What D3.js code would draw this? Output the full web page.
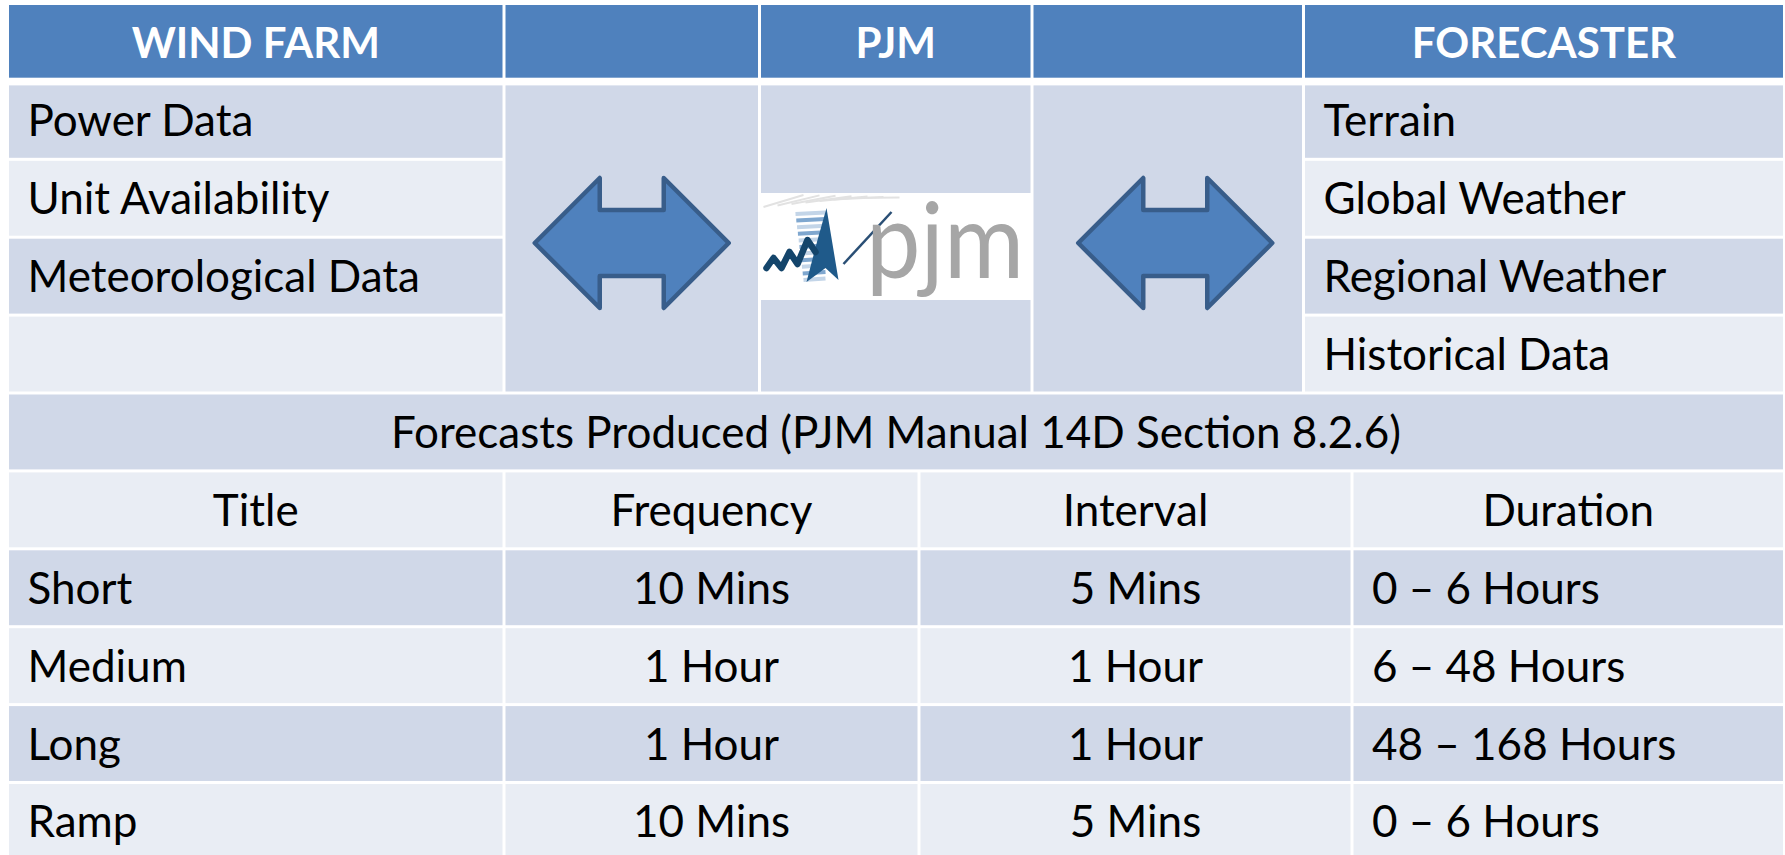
<!DOCTYPE html>
<html>
<head>
<meta charset="utf-8">
<script src="https://cdn.jsdelivr.net/npm/d3@7"></script>
<style>
  html, body { margin: 0; padding: 0; background: #fff; }
  svg { display: block; }
  text { font-family: Lato, "Open Sans", sans-serif; }
</style>
</head>
<body>
<div id="chart"></div>
<script>
// ── data ──────────────────────────────────────────────
const topHeaders       = ["WIND FARM", "", "PJM", "", "FORECASTER"];
const windFarmInputs   = ["Power Data", "Unit Availability", "Meteorological Data", ""];
const forecasterInputs = ["Terrain", "Global Weather", "Regional Weather", "Historical Data"];
const forecastsTitle   = "Forecasts Produced (PJM Manual 14D Section 8.2.6)";
const forecastColumns  = ["Title", "Frequency", "Interval", "Duration"];
const forecastTitles   = ["Short", "Medium", "Long", "Ramp"];
const forecastFreq     = ["10 Mins", "1 Hour", "1 Hour", "10 Mins"];
const forecastInterval = ["5 Mins", "1 Hour", "1 Hour", "5 Mins"];
const forecastDuration = ["0 \u2013 6 Hours", "6 \u2013 48 Hours", "48 \u2013 168 Hours", "0 \u2013 6 Hours"];

(function () {
  const W = 1785, H = 855;
  const HEADER = "#4F81BD", DARK = "#D0D8E8", LIGHT = "#E9EDF4";
  const ARROW_FILL = "#4F81BD", ARROW_STROKE = "#385D8A";
  const FS = 44, FS_HEAD = 42;
  const LINE = 1.5;   // half of the white cell border

  const svg = d3.select("#chart").append("svg")
    .attr("width", W).attr("height", H);

  // row index -> y ; column index -> x
  const nRows = 5 + 1 + 1 + forecastTitles.length;   // header + 4 inputs + title + col heads + rows
  const y = d3.scaleLinear().domain([0, nRows]).range([3.5, 3.5 + nRows * 77.9]);
  const xUp  = d3.scaleLinear().domain([0, 1, 2, 3, 4, 5]).range([7.5, 504, 759.5, 1032, 1303.5, 1784.5]);
  const xLow = d3.scaleLinear().domain([0, 1, 2, 3, 4]).range([7.5, 504, 919, 1352, 1784.5]);

  const band = r => (r % 2 === 1 ? DARK : LIGHT);

  // cell list
  const cells = [];
  function cell(x0, x1, r0, r1, fill, extraTop, extraBottom) {
    cells.push({
      x: x0 + LINE, w: x1 - x0 - 2 * LINE,
      y: y(r0) + LINE + (extraTop || 0),
      h: y(r1) - y(r0) - 2 * LINE - (extraTop || 0) - (extraBottom || 0),
      fill
    });
  }
  // header row (thick bottom border)
  topHeaders.forEach((_, i) => cell(xUp(i), xUp(i + 1), 0, 1, HEADER, 0, 2.2));
  // wind farm + forecaster columns
  windFarmInputs.forEach((_, i) => {
    cell(xUp(0), xUp(1), i + 1, i + 2, band(i + 1), i === 0 ? 2.5 : 0, 0);
    cell(xUp(4), xUp(5), i + 1, i + 2, band(i + 1), i === 0 ? 2.5 : 0, 0);
  });
  // merged middle cells
  [1, 2, 3].forEach(c => cell(xUp(c), xUp(c + 1), 1, 5, DARK, 2.5, 0));
  // forecasts produced title row
  cell(xUp(0), xUp(5), 5, 6, band(5));
  // lower table
  for (let r = 6; r < nRows; r++) {
    forecastColumns.forEach((_, c) => cell(xLow(c), xLow(c + 1), r, r + 1, band(r)));
  }

  svg.append("g").selectAll("rect").data(cells).join("rect")
    .attr("x", d => d.x).attr("y", d => d.y)
    .attr("width", d => d.w).attr("height", d => d.h)
    .attr("fill", d => d.fill);

  // ── texts ──
  const texts = [];
  const mid = r => (y(r) + y(r + 1)) / 2;
  const PAD = 20, DY = 16;

  topHeaders.forEach((t, i) => {
    if (t) texts.push({ t, x: (xUp(i) + xUp(i + 1)) / 2, y: mid(0) + 16, anchor: "middle", bold: true, fill: "#fff" });
  });
  windFarmInputs.forEach((t, i) => {
    if (t) texts.push({ t, x: xUp(0) + PAD, y: mid(i + 1) + DY, anchor: "start" });
  });
  forecasterInputs.forEach((t, i) => {
    texts.push({ t, x: xUp(4) + PAD, y: mid(i + 1) + DY, anchor: "start" });
  });
  texts.push({ t: forecastsTitle, x: (xUp(0) + xUp(5)) / 2, y: mid(5) + DY, anchor: "middle" });
  forecastColumns.forEach((t, c) => {
    texts.push({ t, x: (xLow(c) + xLow(c + 1)) / 2, y: mid(6) + DY, anchor: "middle" });
  });
  forecastTitles.forEach((t, i) => {
    const r = 7 + i;
    texts.push({ t, x: xLow(0) + PAD, y: mid(r) + DY, anchor: "start" });
    texts.push({ t: forecastFreq[i], x: (xLow(1) + xLow(2)) / 2, y: mid(r) + DY, anchor: "middle" });
    texts.push({ t: forecastInterval[i], x: (xLow(2) + xLow(3)) / 2, y: mid(r) + DY, anchor: "middle" });
    texts.push({ t: forecastDuration[i], x: xLow(3) + PAD, y: mid(r) + DY, anchor: "start" });
  });

  svg.append("g").selectAll("text").data(texts).join("text")
    .attr("x", d => d.x).attr("y", d => d.y)
    .attr("text-anchor", d => d.anchor)
    .attr("font-size", d => (d.bold ? FS_HEAD : FS))
    .attr("font-weight", d => (d.bold ? 700 : 400))
    .attr("fill", d => d.fill || "#000")
    .text(d => d.t);

  // ── double arrows ──
  const aw = 97, ahl = 65, ahh = 65, ash = 33;
  const arrowPts = [[-aw, 0], [-aw + ahl, -ahh], [-aw + ahl, -ash], [aw - ahl, -ash], [aw - ahl, -ahh],
                    [aw, 0], [aw - ahl, ahh], [aw - ahl, ash], [-aw + ahl, ash], [-aw + ahl, ahh]];
  const arrowY = 243;
  [(xUp(1) + xUp(2)) / 2, (xUp(3) + xUp(4)) / 2 + 7.5].forEach(cx => {
    svg.append("path")
      .attr("d", d3.line()(arrowPts.map(([px, py]) => [cx + px, arrowY + py])) + "Z")
      .attr("fill", ARROW_FILL)
      .attr("stroke", ARROW_STROKE)
      .attr("stroke-width", 4.5)
      .attr("stroke-linejoin", "round");
  });

  // ── PJM logo ──
  const logo = svg.append("g");
  const lx0 = xUp(2), lx1 = xUp(3);
  logo.append("rect").attr("x", lx0).attr("y", 193).attr("width", lx1 - lx0).attr("height", 107).attr("fill", "#fff");

  // faint streaks at top
  d3.range(7).forEach(i => {
    logo.append("line")
      .attr("x1", lx0 + 4 + i * 14).attr("y1", 207 - i * 1.5)
      .attr("x2", lx0 + 44 + i * 16).attr("y2", 195 + i * 0.4)
      .attr("stroke", "#e2e2e2").attr("stroke-width", 2);
  });
  // light-blue stacked stripes
  d3.range(11).forEach(i => {
    const yy = 214 + i * 6.6;
    logo.append("line")
      .attr("x1", lx0 + 36 + i * 0.8).attr("y1", yy)
      .attr("x2", lx0 + 66).attr("y2", yy - 1.5)
      .attr("stroke", i % 2 ? "#7fa7cf" : "#c3d5e8").attr("stroke-width", 4);
  });
  // dark peak figure
  logo.append("path")
    .attr("d", d3.line()([[lx0 + 47, 282], [lx0 + 58, 240], [lx0 + 67, 208], [lx0 + 79, 280], [lx0 + 66, 268]]) + "Z")
    .attr("fill", "#1f5a8a");
  // navy zigzag line
  logo.append("path")
    .attr("d", d3.line()([[lx0 + 7, 268], [lx0 + 14, 258], [lx0 + 22, 268], [lx0 + 30, 252],
                          [lx0 + 38, 264], [lx0 + 48, 240], [lx0 + 56, 252]]))
    .attr("fill", "none").attr("stroke", "#14456b").attr("stroke-width", 6.5)
    .attr("stroke-linejoin", "round").attr("stroke-linecap", "round");
  // thin slash
  logo.append("line")
    .attr("x1", lx0 + 84).attr("y1", 264).attr("x2", lx0 + 132).attr("y2", 212)
    .attr("stroke", "#2a4f75").attr("stroke-width", 2.5);
  logo.append("text")
    .attr("x", 866).attr("y", 278)
    .attr("font-size", 104)
    .attr("fill", "#a6a6a6")
    .attr("textLength", 158).attr("lengthAdjust", "spacingAndGlyphs")
    .text("pjm");
})();
</script>
</body>
</html>
